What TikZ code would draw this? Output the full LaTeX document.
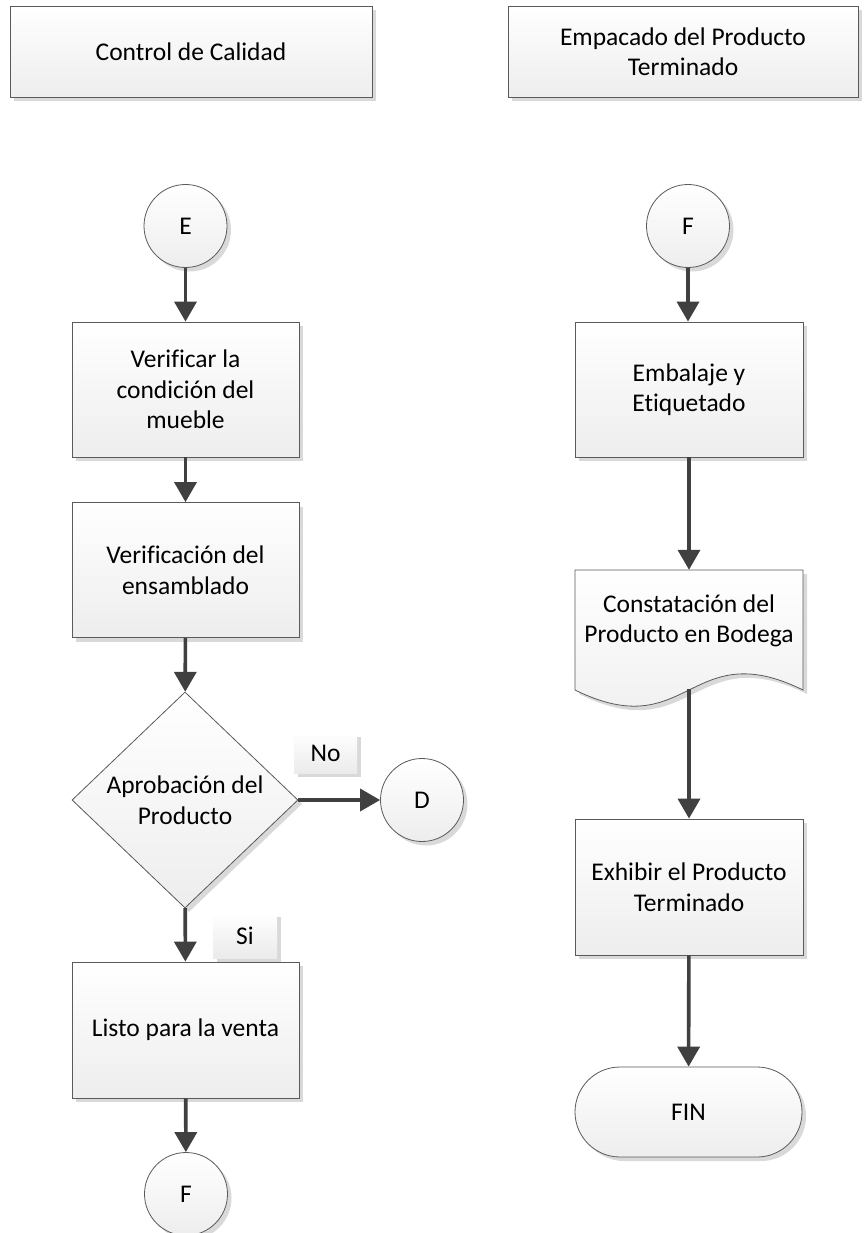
\documentclass[tikz,border=0pt]{standalone}
\usepackage{fontspec}
\setmainfont{Carlito}[Ligatures={NoCommon}]
\usetikzlibrary{shapes.geometric,shadows,arrows.meta}
\definecolor{edgecol}{HTML}{5A5A5A}
\definecolor{arrcol}{HTML}{404040}
\definecolor{shadcol}{HTML}{D9D9D9}
\begin{document}
\begin{tikzpicture}[x=1pt,y=-1pt,
  shp/.style={draw=edgecol, line width=0.8pt, top color=white, bottom color=black!7,
    drop shadow={shadow xshift=4pt, shadow yshift=-4pt, fill=shadcol, opacity=1},
    font=\fontsize{25.5}{30.5}\selectfont, align=center, inner sep=0pt},
  proc/.style={shp, rectangle, minimum width=227pt, minimum height=135pt},
  conn/.style={shp, circle, minimum size=83pt},
  lab/.style={draw=none, top color=white, bottom color=black!8,
    drop shadow={shadow xshift=4pt, shadow yshift=-4pt, fill=shadcol, opacity=1},
    font=\fontsize{25.5}{30.5}\selectfont, inner sep=0pt},
  arr/.style={draw=arrcol, line width=3.6pt, -{Triangle[width=22pt,length=20pt]}}
]
\path[fill=white,use as bounding box] (0,0) rectangle (864,1233);

% headers
\node[shp, rectangle, minimum width=362pt, minimum height=91pt] (h1) at (191,51.5) {Control de Calidad};
\node[shp, rectangle, minimum width=350pt, minimum height=91pt] (h2) at (683,51.5) {Empacado del Producto\\Terminado};

% left column
\node[conn] (E) at (185.5,226) {E};
\node[proc] (b1) at (185.5,389.5) {Verificar la\\condición del\\mueble};
\node[proc] (b2) at (185.5,570) {Verificación del\\ensamblado};
\node[shp, diamond, minimum width=226pt, minimum height=216pt,
  label={[font=\fontsize{25.5}{30.5}\selectfont, align=center]center:Aprobación del\\Producto}] (dia) at (185,800) {};
\node[lab, minimum width=63pt, minimum height=40pt] (no) at (325.5,753) {No};
\node[conn] (D) at (422,800) {D};
\node[lab, minimum width=64pt, minimum height=45pt] (si) at (245,935.5) {Si};
\node[proc, minimum height=136pt] (list) at (185.5,1030) {Listo para la venta};
\node[conn] (F1) at (186,1194) {F};

% right column
\node[conn] (F2) at (688,226) {F};
\node[proc, minimum width=228pt] (emb) at (689,389.5) {Embalaje y\\Etiquetado};
\path[draw=edgecol, line width=0.8pt, top color=white, bottom color=black!7,
    drop shadow={shadow xshift=4pt, shadow yshift=-4pt, fill=shadcol, opacity=1}]
  (575,570) -- (803,570) -- (803,690) .. controls (689,634) and (689,746) .. (575,690) -- cycle;
\node[draw=none, minimum width=228pt, minimum height=119pt, inner sep=0pt] (doc) at (689,629.5) {};
\node[font=\fontsize{25.5}{30.5}\selectfont, align=center, inner sep=0pt] (doct) at (689,621) {Constatación del\\Producto en Bodega};
\node[proc, minimum width=228pt, minimum height=136pt] (exh) at (689,887) {Exhibir el Producto\\Terminado};
\node[shp, rectangle, rounded corners=45pt, minimum width=227pt, minimum height=90pt] (fin) at (688.5,1112) {FIN};

% connectors
\draw[arr] (E) -- (b1);
\draw[arr] (b1) -- (b2);
\draw[arr] (b2) -- (dia);
\draw[arr] (dia.east) -- (D.west);
\draw[arr] (dia) -- (list);
\draw[arr] (list) -- (F1);
\draw[arr] (F2.south) -- (emb.north -| F2.south);
\draw[arr] (emb) -- (doc.north);
\draw[arr] (doc.south) -- (exh);
\draw[arr] (exh) -- (fin);
\end{tikzpicture}
\end{document}
